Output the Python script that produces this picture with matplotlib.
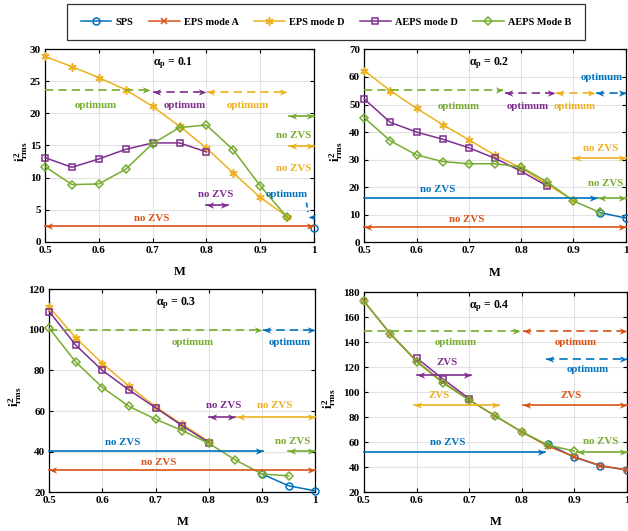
import numpy as np
import matplotlib
matplotlib.use("Agg")
import matplotlib.pyplot as plt
from matplotlib.lines import Line2D

plt.rcParams["font.family"] = ["Liberation Serif", "DejaVu Serif"]
plt.rcParams["font.weight"] = "bold"
plt.rcParams["mathtext.fontset"] = "custom"
plt.rcParams["mathtext.rm"] = "Liberation Serif:bold"
plt.rcParams["mathtext.it"] = "Liberation Serif:bold"
plt.rcParams["mathtext.bf"] = "Liberation Serif:bold"

nan = np.nan
M = [0.5, 0.55, 0.6, 0.65, 0.7, 0.75, 0.8, 0.85, 0.9, 0.95, 1.0]
x_ticks = [0.5, 0.6, 0.7, 0.8, 0.9, 1.0]
x_tick_labels = ["0.5", "0.6", "0.7", "0.8", "0.9", "1"]
series_names = ["SPS", "EPS mode A", "EPS mode D", "AEPS mode D", "AEPS Mode B"]

# alpha_p = 0.1
sps_01 = [nan, nan, nan, nan, nan, nan, nan, nan, nan, nan, 2.2]
epsa_01 = [nan] * 11
epsd_01 = [28.9, 27.3, 25.6, 23.7, 21.1, 18.0, 14.6, 10.7, 6.9, 3.9, nan]
aepsd_01 = [13.1, 11.6, 12.9, 14.4, 15.4, 15.4, 14.0, nan, nan, nan, nan]
aepsb_01 = [11.7, 8.9, 9.0, 11.3, 15.3, 17.8, 18.2, 14.3, 8.7, 3.8, nan]

# alpha_p = 0.2
sps_02 = [nan, nan, nan, nan, nan, nan, nan, nan, nan, 10.8, 8.8]
epsa_02 = [nan] * 11
epsd_02 = [62.3, 55.0, 48.6, 42.7, 37.2, 31.6, 27.0, 21.0, 15.2, nan, nan]
aepsd_02 = [52.0, 43.5, 40.0, 37.4, 34.3, 30.5, 25.8, 20.4, nan, nan, nan]
aepsb_02 = [45.2, 36.8, 31.7, 29.3, 28.5, 28.5, 27.3, 21.9, 15.0, 10.9, nan]

# alpha_p = 0.3
sps_03 = [nan, nan, nan, nan, nan, nan, nan, nan, 29.0, 23.2, 20.7]
epsa_03 = [nan] * 11
epsd_03 = [111.2, 96.0, 83.4, 72.3, 62.1, 53.4, 45.0, nan, nan, nan, nan]
aepsd_03 = [109.0, 92.4, 80.0, 70.4, 61.6, 52.8, 44.5, nan, nan, nan, nan]
aepsb_03 = [100.8, 84.1, 71.6, 62.3, 56.0, 50.4, 44.1, 35.9, 29.0, 28.1, nan]

# alpha_p = 0.4
sps_04 = [nan, nan, nan, nan, nan, nan, nan, 58.8, 48.0, 41.2, 37.8]
epsa_04 = [172.8, 147.0, 125.0, 108.0, 93.9, 81.0, 68.3, 57.0, 48.5, 41.3, 37.9]
epsd_04 = [nan] * 11
aepsd_04 = [nan, nan, 127.6, 110.7, 95.0, nan, nan, nan, nan, nan, nan]
aepsb_04 = [172.8, 146.7, 124.6, 107.6, 93.9, 81.0, 68.5, 57.8, 53.0, nan, nan]

alphas = ["0.1", "0.2", "0.3", "0.4"]
y_limits = [(0, 30, 5), (0, 70, 10), (20, 120, 20), (20, 180, 20)]

colors = {"SPS": "#0072BD", "EA": "#D95319", "ED": "#EDB120",
          "AD": "#7E2F8E", "B": "#77AC30"}
# (colour, marker, marker size)
styles = [("SPS", "o", 5), ("EA", "x", 5), ("ED", (6, 2, 0), 6),
          ("AD", "s", 4.6), ("B", "D", 4.2)]

# region arrows: (x0, x1, y, colour, dashed, heads)
arrows = [
    [(0.5, 0.695, 23.65, "B", True, "r"), (0.701, 0.799, 23.35, "AD", True, "lr"),
     (0.802, 0.95, 23.35, "ED", True, "lr"), (0.954, 1.0, 19.65, "B", False, "lr"),
     (0.954, 1.0, 14.9, "ED", False, "lr"), (0.80, 0.84, 5.7, "AD", False, "lr"),
     (0.5, 1.0, 2.4, "EA", False, "lr")],
    [(0.5, 0.765, 55.4, "B", True, "r"), (0.769, 0.864, 54.2, "AD", True, "lr"),
     (0.867, 0.941, 54.2, "ED", True, "lr"), (0.944, 1.0, 54.2, "SPS", True, "lr"),
     (0.9, 1.0, 30.7, "ED", False, "lr"), (0.5, 0.946, 16.0, "SPS", False, "r"),
     (0.948, 1.0, 16.0, "B", False, "lr"), (0.5, 1.0, 5.4, "EA", False, "lr")],
    [(0.5, 0.899, 100.0, "B", True, "r"), (0.902, 1.0, 100.0, "SPS", True, "lr"),
     (0.801, 0.849, 57.3, "AD", False, "lr"), (0.852, 1.0, 57.3, "ED", False, "lr"),
     (0.5, 0.902, 40.4, "SPS", False, "r"), (0.949, 1.0, 40.4, "B", False, "lr"),
     (0.5, 1.0, 30.8, "EA", False, "lr")],
    [(0.5, 0.797, 149.0, "B", True, "r"), (0.803, 1.0, 149.0, "EA", True, "lr"),
     (0.846, 1.0, 126.4, "SPS", True, "lr"), (0.601, 0.703, 113.9, "AD", False, "lr"),
     (0.596, 0.756, 90.1, "ED", False, "lr"), (0.803, 1.0, 90.1, "EA", False, "lr"),
     (0.5, 0.845, 52.3, "SPS", False, "r"), (0.905, 1.0, 52.3, "B", False, "lr")],
]

# region labels: (x, y, text, colour)
labels = [
    [(0.595, 21.2, "optimum", "B"), (0.76, 21.2, "optimum", "AD"),
     (0.877, 21.2, "optimum", "ED"), (0.962, 16.5, "no ZVS", "B"),
     (0.962, 11.4, "no ZVS", "ED"), (0.818, 7.3, "no ZVS", "AD"),
     (0.950, 7.3, "optimum", "SPS"), (0.698, 3.6, "no ZVS", "EA")],
    [(0.681, 49.2, "optimum", "B"), (0.812, 49.2, "optimum", "AD"),
     (0.902, 49.2, "optimum", "ED"), (0.955, 59.9, "optimum", "SPS"),
     (0.953, 33.9, "no ZVS", "ED"), (0.640, 19.2, "no ZVS", "SPS"),
     (0.962, 21.2, "no ZVS", "B"), (0.696, 8.1, "no ZVS", "EA")],
    [(0.769, 93.9, "optimum", "B"), (0.952, 93.9, "optimum", "SPS"),
     (0.827, 62.7, "no ZVS", "AD"), (0.924, 62.7, "no ZVS", "ED"),
     (0.638, 44.5, "no ZVS", "SPS"), (0.957, 45.0, "no ZVS", "B"),
     (0.705, 34.8, "no ZVS", "EA")],
    [(0.675, 140.0, "optimum", "B"), (0.903, 140.0, "optimum", "EA"),
     (0.925, 118.4, "optimum", "SPS"), (0.659, 123.7, "ZVS", "AD"),
     (0.643, 97.3, "ZVS", "ED"), (0.894, 97.3, "ZVS", "EA"),
     (0.659, 59.7, "no ZVS", "SPS"), (0.951, 60.5, "no ZVS", "B")],
]

data = [
    [sps_01, epsa_01, epsd_01, aepsd_01, aepsb_01],
    [sps_02, epsa_02, epsd_02, aepsd_02, aepsb_02],
    [sps_03, epsa_03, epsd_03, aepsd_03, aepsb_03],
    [sps_04, epsa_04, epsd_04, aepsd_04, aepsb_04],
]

# notched arrowhead markers, tip at the marker origin
HEAD_R = [(0, 0), (-1, 0.42), (-0.72, 0), (-1, -0.42), (0, 0)]
HEAD_L = [(-x, y) for x, y in HEAD_R]

fig = plt.figure(figsize=(6.28, 5.31), dpi=100)
positions = [
    [0.0717, 0.545, 0.4283, 0.362],
    [0.580, 0.5437, 0.4163, 0.3633],
    [0.0785, 0.0729, 0.4235, 0.3823],
    [0.5796, 0.0729, 0.4184, 0.3766],
]
ylabel_x = [-0.055, -0.072, -0.096, -0.098]
xlabel_y = [-0.126, -0.126, -0.118, -0.12]


def region_arrow(ax, x0, x1, y, c, dashed, heads):
    ls = (0, (5, 3)) if dashed else "-"
    ax.plot([x0, x1], [y, y], color=c, lw=1.2, ls=ls, zorder=4, clip_on=False)
    kw = dict(color=c, ms=11, mew=0, ls="none", zorder=5, clip_on=False)
    if "r" in heads:
        ax.plot([x1], [y], marker=HEAD_R, **kw)
    if "l" in heads:
        ax.plot([x0], [y], marker=HEAD_L, **kw)


for k in range(4):
    ax = fig.add_axes(positions[k])
    ax.set_axisbelow(True)
    ax.grid(True, color="#e2e2e2", lw=0.8)
    for (key, mk, ms), ys in zip(styles, data[k]):
        ax.plot(M, ys, color=colors[key], marker=mk, ms=ms, mew=1.1,
                mfc="none", lw=1.1, zorder=3, clip_on=False)
    for x0, x1, y, ck, dashed, heads in arrows[k]:
        region_arrow(ax, x0, x1, y, colors[ck], dashed, heads)
    for x, y, t, ck in labels[k]:
        ax.text(x, y, t, color=colors[ck], fontsize=7.8, fontweight="bold",
                ha="center", va="center", zorder=6)
    ax.text(0.476, 0.93, r"$\alpha_{p}$ = " + alphas[k], transform=ax.transAxes,
            ha="center", va="center", fontsize=8.5, fontweight="bold")
    lo, hi, step = y_limits[k]
    ax.set_xlim(0.5, 1.0)
    ax.set_ylim(lo, hi)
    ax.set_xticks(x_ticks)
    ax.set_xticklabels(x_tick_labels)
    ax.set_yticks(np.arange(lo, hi + step / 2, step))
    ax.tick_params(direction="in", top=True, right=True, length=3, width=0.8,
                   labelsize=8, pad=3)
    for lab in ax.get_xticklabels() + ax.get_yticklabels():
        lab.set_fontweight("bold")
    for s in ax.spines.values():
        s.set_linewidth(0.9)
    ax.set_xlabel("M", fontsize=9, fontweight="bold")
    ax.xaxis.set_label_coords(0.5, xlabel_y[k])
    ax.set_ylabel(r"$i^{2}_{rms}$", fontsize=9.5)
    ax.yaxis.set_label_coords(ylabel_x[k], 0.47)

    if k == 0:
        # SPS optimum point at M = 1
        ax.plot([0.986, 0.989], [6.1, 4.6], color=colors["SPS"], lw=1.2,
                ls=(0, (3, 2)), zorder=4, clip_on=False)
        ax.plot([0.989], [3.9], marker=HEAD_L, color=colors["SPS"], ms=11,
                mew=0, ls="none", zorder=5, clip_on=False)

handles = [Line2D([], [], color=colors[key], marker=mk, ms=ms, mew=1.1,
                  mfc="none", lw=1.1) for key, mk, ms in styles]
leg = fig.legend(handles, series_names, loc="center", ncol=5,
                 bbox_to_anchor=(0.519, 0.958), fontsize=7.4, frameon=True,
                 fancybox=False, edgecolor="black", handlelength=3.0,
                 columnspacing=1.5, handletextpad=0.4, borderpad=1.3,
                 borderaxespad=0)
leg.get_frame().set_linewidth(0.9)
for t in leg.get_texts():
    t.set_fontweight("bold")

fig.savefig("out.png", dpi=100)
